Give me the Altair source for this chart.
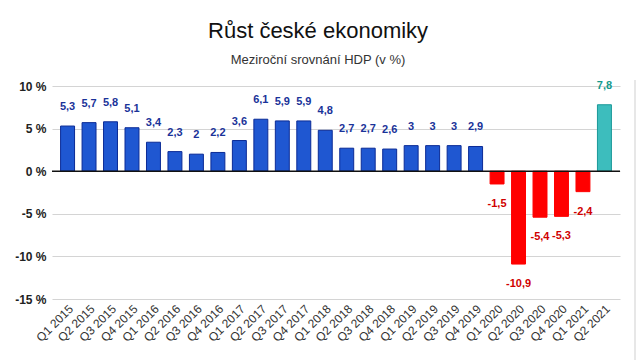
import altair as alt
import pandas as pd

quarters = ["Q1 2015", "Q2 2015", "Q3 2015", "Q4 2015",
            "Q1 2016", "Q2 2016", "Q3 2016", "Q4 2016",
            "Q1 2017", "Q2 2017", "Q3 2017", "Q4 2017",
            "Q1 2018", "Q2 2018", "Q3 2018", "Q4 2018",
            "Q1 2019", "Q2 2019", "Q3 2019", "Q4 2019",
            "Q1 2020", "Q2 2020", "Q3 2020", "Q4 2020",
            "Q1 2021", "Q2 2021"]
growth = [5.3, 5.7, 5.8, 5.1, 3.4, 2.3, 2.0, 2.2, 3.6, 6.1, 5.9, 5.9,
          4.8, 2.7, 2.7, 2.6, 3.0, 3.0, 3.0, 2.9,
          -1.5, -10.9, -5.4, -5.3, -2.4, 7.8]
latest = "Q2 2021"
y_ticks = [-15, -10, -5, 0, 5, 10]

groups = []
for q, v in zip(quarters, growth):
    if q == latest:
        groups.append("nový")
    elif v < 0:
        groups.append("pokles")
    else:
        groups.append("růst")

df = pd.DataFrame({
    "q": quarters,
    "v": growth,
    "g": groups,
    "label": [f"{v:g}".replace(".", ",") for v in growth],
})

FONT = "Liberation Sans"
gdom = ["růst", "pokles", "nový"]

x = alt.X("q:N", sort=quarters, title=None,
          scale=alt.Scale(paddingInner=0.35, paddingOuter=0.4),
          axis=alt.Axis(labelAngle=-45, labelFont=FONT, labelFontSize=12,
                        labelColor="#333", ticks=False, domain=False,
                        labelPadding=4))
y = alt.Y("v:Q", title=None,
          scale=alt.Scale(domain=[-15, 10], nice=False),
          axis=alt.Axis(values=y_ticks, labelExpr="datum.value + ' %'",
                        labelFont=FONT, labelFontSize=12, labelFontWeight="bold",
                        labelColor="#222", ticks=False, domain=False,
                        gridColor="#d4d4d4", gridWidth=1.2, labelPadding=6))

bars = alt.Chart(df).mark_bar(strokeWidth=1).encode(
    x=x, y=y,
    fill=alt.Fill("g:N", scale=alt.Scale(domain=gdom, range=["#1f57d1", "#ff0000", "#3dbdbd"]), legend=None),
    stroke=alt.Stroke("g:N", scale=alt.Scale(domain=gdom, range=["#0b2b96", "#ff0000", "#1a9898"]), legend=None),
)

label_color = alt.Color("g:N", scale=alt.Scale(domain=gdom, range=["#1a3399", "#d00000", "#139a8c"]), legend=None)
base_text = alt.Chart(df)
pos_text = base_text.transform_filter("datum.v >= 0").mark_text(
    font=FONT, fontSize=11, fontWeight="bold", baseline="middle", dy=-19
).encode(x=alt.X("q:N", sort=quarters), y="v:Q", text="label:N", color=label_color)
neg_text = base_text.transform_filter("datum.v < 0").mark_text(
    font=FONT, fontSize=11, fontWeight="bold", baseline="middle", dy=20
).encode(x=alt.X("q:N", sort=quarters), y="v:Q", text="label:N", color=label_color)

zero = alt.Chart(pd.DataFrame({"z": [0]})).mark_rule(color="#111", strokeWidth=1.5).encode(y="z:Q")

border = alt.Chart(pd.DataFrame({"z": [0]})).mark_rule(color="#cfcfcf", strokeWidth=1, clip=False).encode(
    x=alt.value(583), y=alt.value(-6), y2=alt.value(274))

chart = alt.layer(bars, zero, pos_text, neg_text, border).properties(
    width=568, height=213,
    padding={"left": 52, "top": 86, "right": 19, "bottom": 61},
    autosize=alt.AutoSizeParams(type="none"),
    title=alt.Title("Růst české ekonomiky", subtitle="Meziroční srovnání HDP (v %)",
                    font=FONT, fontSize=22, fontWeight="normal", color="#111",
                    subtitleFont=FONT, subtitleFontSize=13, subtitleColor="#333",
                    anchor="middle", frame="bounds", offset=12, subtitlePadding=11,
                    dx=-7),
).configure_view(stroke=None)

chart.save("out.html", embed_options={"renderer": "svg", "actions": False})
